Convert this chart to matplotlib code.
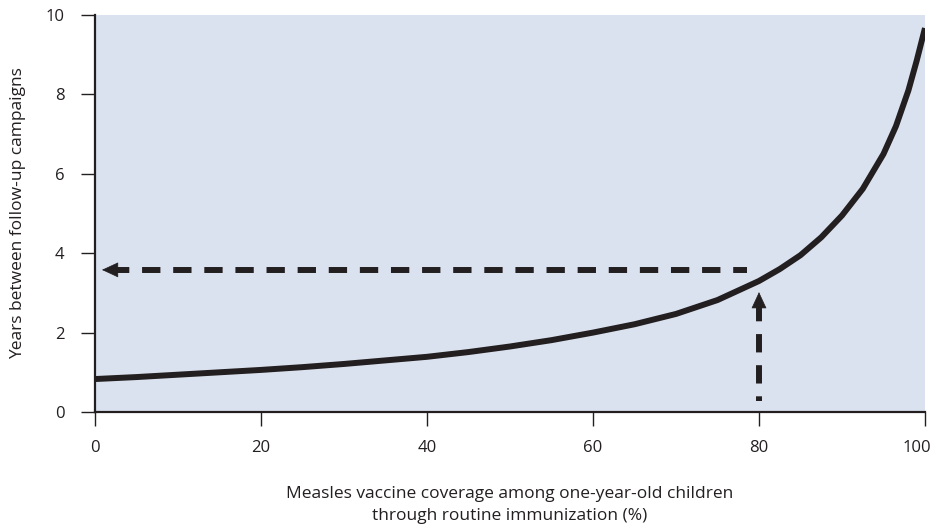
import numpy as np
import matplotlib.pyplot as plt
import matplotlib.transforms as mtransforms

# Curve
coverage = [0, 5, 10, 15, 20, 25, 30, 35, 40, 45, 50, 55, 60, 65, 70, 75,
            80, 82.5, 85, 87.5, 90, 92.5, 95, 96.5, 98, 99, 100]
years = [0.83, 0.88, 0.94, 1.00, 1.06, 1.13, 1.21, 1.30, 1.39, 1.51, 1.65, 1.81,
         2.00, 2.21, 2.47, 2.82, 3.30, 3.60, 3.95, 4.40, 4.95, 5.62, 6.50, 7.20,
         8.10, 8.85, 9.67]

# Reading guide: 80 % coverage -> about 3.6 years
guide_x = 80
guide_y = 3.58

xticks = [0, 20, 40, 60, 80, 100]
yticks = [0, 2, 4, 6, 8, 10]
xlabel = 'Measles vaccine coverage among one-year-old children\nthrough routine immunization (%)'
ylabel = 'Years between follow-up campaigns'

ink = '#231f20'
plt.rcParams.update({'font.family': ['Open Sans', 'DejaVu Sans'], 'font.size': 12,
                     'lines.scale_dashes': False})

fig = plt.figure(figsize=(9.31, 5.27), dpi=100)
ax = fig.add_axes([95 / 931, 1 - 412 / 527, 830 / 931, 397 / 527])
ax.set_facecolor('#dbe2ef')

ax.plot(coverage, years, color=ink, lw=4.3, solid_joinstyle='round',
        solid_capstyle='butt', zorder=3)

# dashed guide lines (dash ~19 px, gap ~12 px)
dash = (2.9, (13.2, 9.2))
ax.plot([guide_x, guide_x], [2.64, 0.28], color=ink, lw=4.3, linestyle=dash,
        dash_capstyle='butt', zorder=4)
ax.plot([2.41, 78.55], [guide_y, guide_y], color=ink, lw=4.3, linestyle=dash,
        dash_capstyle='butt', zorder=4)

head = dict(arrowstyle='-|>,head_length=1.08,head_width=0.5', color=ink, lw=0.5,
            mutation_scale=10, shrinkA=0, shrinkB=0)
ax.annotate('', xy=(guide_x, 3.02), xytext=(guide_x, 2.62), arrowprops=head, zorder=5)
ax.annotate('', xy=(0.84, guide_y), xytext=(2.45, guide_y), arrowprops=head, zorder=5)

ax.set_xlim(0, 100)
ax.set_ylim(0, 10)
ax.set_xticks(xticks)
ax.set_yticks(yticks)
for s in ['top', 'right']:
    ax.spines[s].set_visible(False)
for s in ['left', 'bottom']:
    ax.spines[s].set_linewidth(1.6)
    ax.spines[s].set_color(ink)
ax.tick_params(axis='both', direction='out', length=10, width=1, color=ink,
               labelsize=12, labelcolor=ink)
ax.tick_params(axis='x', pad=10)
ax.tick_params(axis='y', pad=12)

# last x label sits a little inside the figure edge
lab = ax.get_xticklabels()[-1]
lab.set_transform(lab.get_transform() + mtransforms.ScaledTranslation(-8 / 100, 0, fig.dpi_scale_trans))

ax.set_xlabel(xlabel, fontsize=12.5, color=ink, labelpad=22, linespacing=1.45)
ax.set_ylabel(ylabel, fontsize=12.5, color=ink, labelpad=14)

fig.savefig('out.png', dpi=100)
